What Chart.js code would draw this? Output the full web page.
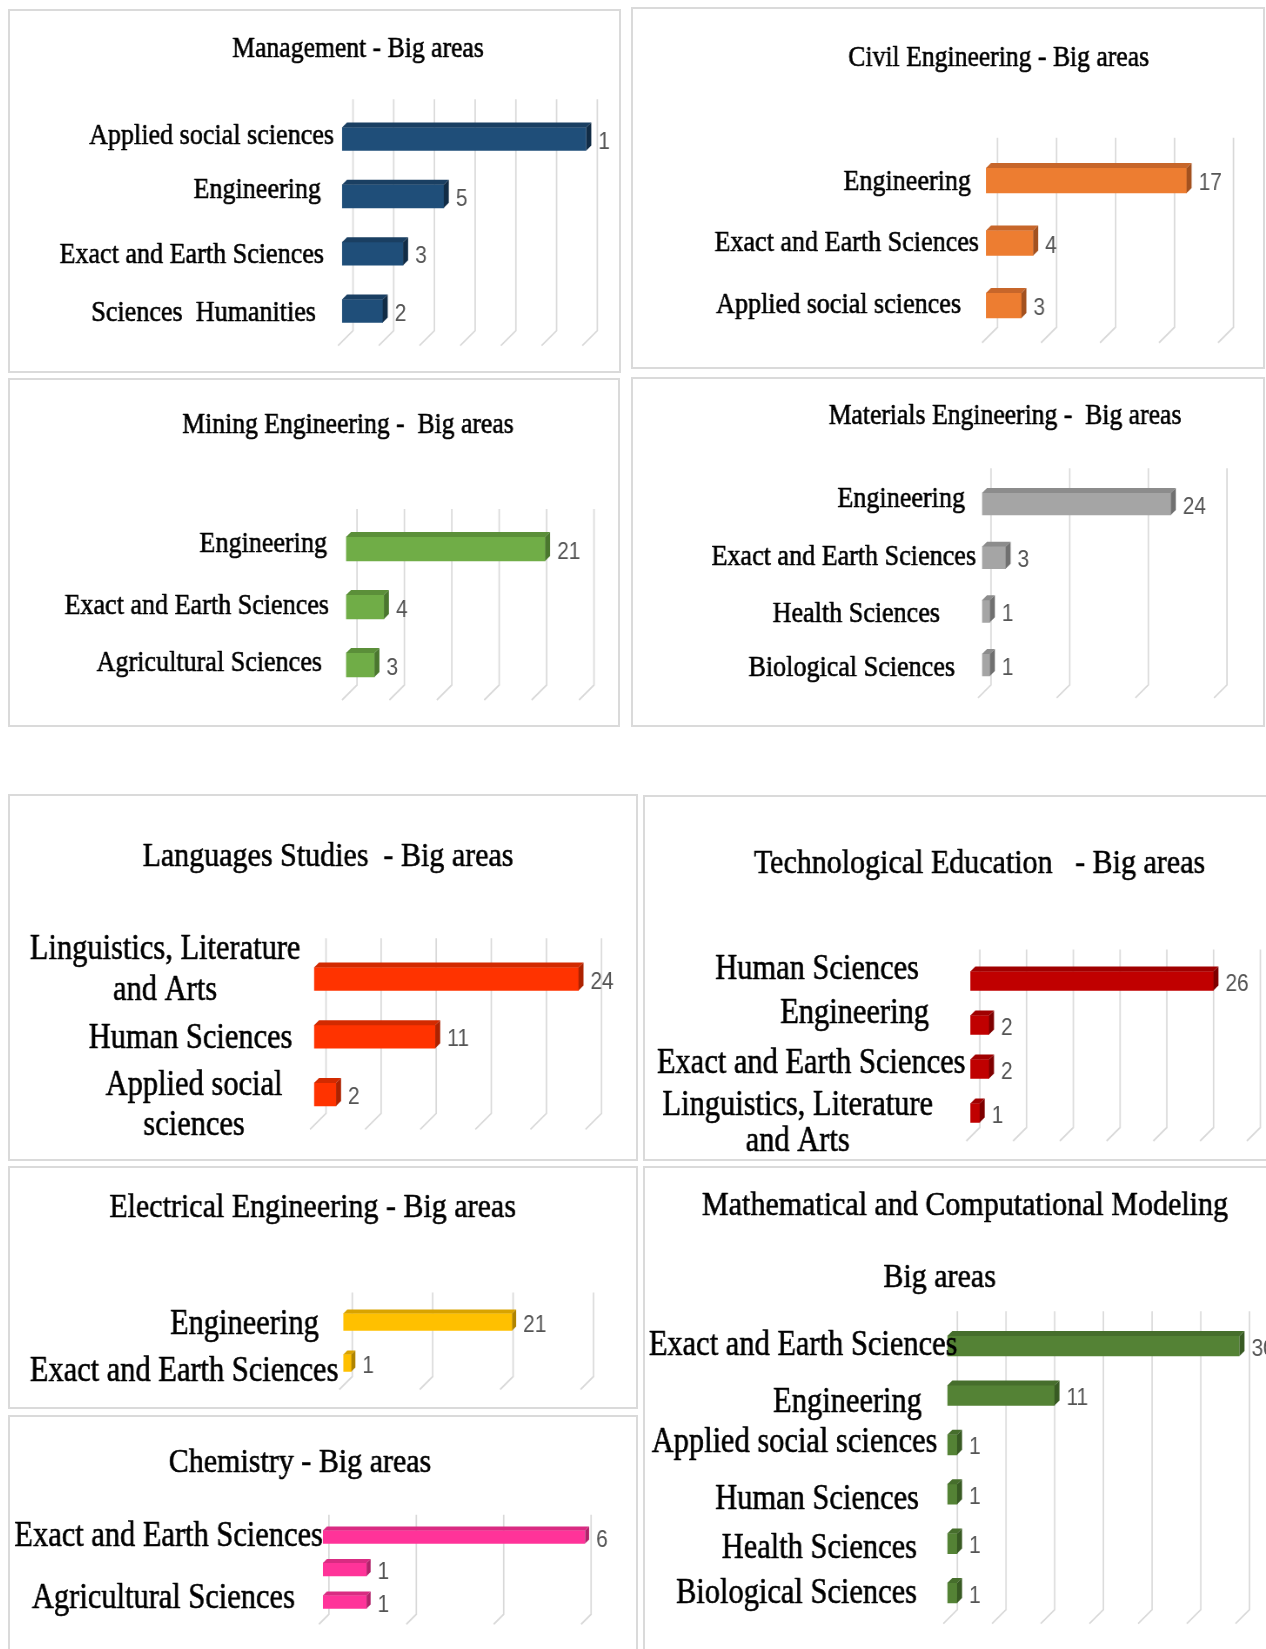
<!DOCTYPE html>
<html>
<head>
<meta charset="utf-8">
<script src="https://cdn.jsdelivr.net/npm/chart.js@4.4.1/dist/chart.umd.min.js"></script>
<style>
html, body { margin: 0; padding: 0; background: #fff; }
body { width: 1266px; height: 1649px; position: relative; overflow: hidden; }
.panel { position: absolute; overflow: hidden; }
.panel canvas { position: absolute; left: 0; top: 0; transform-origin: 0 0; }
.frame { position: absolute; box-sizing: border-box; border: 2px solid #dadada; pointer-events: none; }
</style>
</head>
<body>
<script>
// ---- data ----
var mgmtAreas = ['Applied social sciences', 'Engineering', 'Exact and Earth Sciences', 'Sciences  Humanities'];
var mgmtCounts = [12, 5, 3, 2];
var mgmtShown = ['1', '5', '3', '2'];   // first label is cut in the original
var mgmtAxis = [12, 2];                 // [max, step]

var civilAreas = ['Engineering', 'Exact and Earth Sciences', 'Applied social sciences'];
var civilCounts = [17, 4, 3];
var civilAxis = [20, 5];

var miningAreas = ['Engineering', 'Exact and Earth Sciences', 'Agricultural Sciences'];
var miningCounts = [21, 4, 3];
var miningAxis = [25, 5];

var materialsAreas = ['Engineering', 'Exact and Earth Sciences', 'Health Sciences', 'Biological Sciences'];
var materialsCounts = [24, 3, 1, 1];
var materialsAxis = [30, 10];

var languagesAreas = [['Linguistics, Literature', 'and Arts'], 'Human Sciences', ['Applied social', 'sciences']];
var languagesCounts = [24, 11, 2];
var languagesAxis = [25, 5];

var techAreas = ['Human Sciences', 'Engineering', 'Exact and Earth Sciences', ['Linguistics, Literature', 'and Arts']];
var techCounts = [26, 2, 2, 1];
var techAxis = [30, 5];

var electricalAreas = ['Engineering', 'Exact and Earth Sciences'];
var electricalCounts = [21, 1];
var electricalAxis = [30, 10];

var chemistryAreas = ['Exact and Earth Sciences', '', 'Agricultural Sciences'];
var chemistryCounts = [6, 1, 1];
var chemistryAxis = [6, 2];

var modelingAreas = ['Exact and Earth Sciences', 'Engineering', 'Applied social sciences', 'Human Sciences', 'Health Sciences', 'Biological Sciences'];
var modelingCounts = [30, 11, 1, 1, 1, 1];
var modelingAxis = [30, 5];

// horizontal squeeze of the whole drawing (the source picture is narrowed)
var SX = 0.87;

var panels = [
  { rect: [8, 9, 613, 364], labels: mgmtAreas, values: mgmtCounts, shown: mgmtShown, axis: mgmtAxis,
    color: '#1F4E79', top: '#1a3f62', side: '#112c46',
    zero: 342, xEnd: 586.3, firstY: 139, lastY: 311, barT: 23, depth: 11, k: 5,
    fs: 30, labelRight: 334, shift: [0, -13, -10, -18], dy: [-5, -8, -1, 0], lh: 1.1,
    titleFs: 29.5, titles: [['Management - Big areas', 358, 47.6]] },
  { rect: [631, 7, 634, 362], labels: civilAreas, values: civilCounts, axis: civilAxis,
    color: '#ED7D31', top: '#c7662a', side: '#a3511f',
    zero: 986, xEnd: 1222, firstY: 180.5, lastY: 305.5, barT: 25, depth: 11.5, k: 5,
    fs: 30, labelRight: 979, shift: [-8, 0, -18], dy: [0, -2, -2], lh: 1.1,
    titleFs: 29.5, titles: [['Civil Engineering - Big areas', 998.7, 56]] },
  { rect: [8, 378, 612, 349], labels: miningAreas, values: miningCounts, axis: miningAxis,
    color: '#70AD47', top: '#5b8f39', side: '#4a772e',
    zero: 346, xEnd: 583, firstY: 549, lastY: 665, barT: 24, depth: 11, k: 5,
    fs: 30, labelRight: 329, shift: [-2, 0, -7], dy: [-7, -3, -4], lh: 1.1,
    titleFs: 29.5, titles: [['Mining Engineering -  Big areas', 348, 423.5]] },
  { rect: [631, 377, 634, 350], labels: materialsAreas, values: materialsCounts, axis: materialsAxis,
    color: '#A5A5A5', top: '#8c8c8c', side: '#707070',
    zero: 982, xEnd: 1218, firstY: 504, lastY: 665, barT: 22, depth: 9, k: 5,
    fs: 30, labelRight: 976, shift: [-11, 0, -36, -21], dy: [-7, -3, 1, 1], lh: 1.1,
    titleFs: 29.5, titles: [['Materials Engineering -  Big areas', 1005, 414.3]] },
  { rect: [8, 794, 630, 367], labels: languagesAreas, values: languagesCounts, axis: languagesAxis,
    color: '#FF3300', top: '#d22a00', side: '#ad2200',
    zero: 314, xEnd: 589.5, firstY: 979, lastY: 1094.5, barT: 23, depth: 12, k: 5,
    fs: 35, labelRight: 300.4, shift: [0, -8, -18], dy: [-11, 0, 9], lh: 1.15,
    titleFs: 34.5, titles: [['Languages Studies  - Big areas', 328, 854.5]] },
  { rect: [643, 795, 626, 366], labels: techAreas, values: techCounts, axis: techAxis,
    color: '#C00000', top: '#a00000', side: '#7e0000',
    zero: 970.3, xEnd: 1250.8, firstY: 981, lastY: 1113, barT: 19, depth: 9.5, k: 5,
    fs: 35, labelRight: 965.5, shift: [-46.5, -36.5, 0, -32.5], dy: [-14, -14, -8, 8], lh: 1.03,
    titleFs: 34.5, titles: [['Technological Education   - Big areas', 979.5, 862]] },
  { rect: [8, 1166, 630, 243], labels: electricalAreas, values: electricalCounts, axis: electricalAxis,
    color: '#FFC000', top: '#d9a300', side: '#b08400',
    zero: 343.3, xEnd: 584.5, firstY: 1322, lastY: 1363, barT: 17, depth: 9, k: 4,
    fs: 35, labelRight: 338.4, shift: [-19.6, 0], dy: [0, 6], lh: 1.1,
    titleFs: 34.5, titles: [['Electrical Engineering - Big areas', 312.6, 1205.4]] },
  { rect: [8, 1415, 630, 245], labels: chemistryAreas, values: chemistryCounts, axis: chemistryAxis,
    color: '#FF3399', top: '#d92b82', side: '#b0226a',
    zero: 322.9, xEnd: 585.1, firstY: 1537, lastY: 1602, barT: 13, depth: 6, k: 4,
    fs: 35, labelRight: 322.9, shift: [0, 0, -28], dy: [-3, 0, -6], lh: 1.1,
    titleFs: 34.5, titles: [['Chemistry - Big areas', 300, 1461]] },
  { rect: [643, 1166, 626, 495], labels: modelingAreas, values: modelingCounts, axis: modelingAxis,
    color: '#548235', top: '#466e2c', side: '#385a23',
    zero: 947.3, xEnd: 1239.5, firstY: 1346, lastY: 1593, barT: 20, depth: 10, k: 5,
    fs: 35, labelRight: 957.4, shift: [0, -35.5, -20, -38.4, -40.4, -40.4], dy: [-3, 5, -4, 3, 3, -2], lh: 1.1,
    titleFs: 34.5, titles: [['Mathematical and Computational Modeling', 965, 1203.7], ['Big areas', 939.6, 1276]] }
];

// text drawn a touch heavier, like the blurry source
function heavyText(ctx, s, x, y) {
  ctx.strokeText(s, x, y);
  ctx.fillText(s, x, y);
}

// draws the 3d look, the category labels and the titles
function look(p) {
  var left = p.rect[0], top = p.rect[1];
  return {
    id: 'look',
    beforeDatasetsDraw: function (chart) {
      var ctx = chart.ctx, xs = chart.scales.x, a = chart.chartArea;
      var dxc = p.depth / SX, foot = p.depth + 4;
      ctx.save();
      ctx.strokeStyle = '#d9d9d9';
      ctx.lineWidth = 1.7;
      for (var v = 0; v <= p.axis[0] + 1e-9; v += p.axis[1]) {
        var px = xs.getPixelForValue(v) + dxc;
        var yb = a.bottom - p.depth + 2;
        ctx.beginPath();
        ctx.moveTo(px, a.top - p.depth);
        ctx.lineTo(px, yb);
        ctx.lineTo(px - foot / SX, yb + foot);
        ctx.stroke();
      }
      ctx.restore();
    },
    afterDatasetsDraw: function (chart) {
      var ctx = chart.ctx, meta = chart.getDatasetMeta(0);
      var k = p.k, kx = p.k / SX;
      var vfs = 24;
      ctx.save();
      meta.data.forEach(function (bar, i) {
        var b = bar.getProps(['x', 'y', 'base', 'height'], true);
        var x0 = b.base, x1 = b.x, yt = b.y - b.height / 2, yb = b.y + b.height / 2;
        ctx.fillStyle = p.top;
        ctx.beginPath();
        ctx.moveTo(x0, yt); ctx.lineTo(x0 + kx, yt - k); ctx.lineTo(x1 + kx, yt - k); ctx.lineTo(x1, yt);
        ctx.closePath(); ctx.fill();
        ctx.fillStyle = p.side;
        ctx.beginPath();
        ctx.moveTo(x1, yt); ctx.lineTo(x1 + kx, yt - k); ctx.lineTo(x1 + kx, yb - k); ctx.lineTo(x1, yb);
        ctx.closePath(); ctx.fill();
        var txt = p.shown ? p.shown[i] : String(chart.data.datasets[0].data[i]);
        ctx.fillStyle = '#555';
        ctx.font = vfs + 'px "Liberation Sans"';
        ctx.textAlign = 'left';
        ctx.textBaseline = 'alphabetic';
        ctx.fillText(txt, x1 + kx + 7 / SX, b.y + 1 + 0.358 * vfs);
      });
      ctx.restore();
    },
    afterDraw: function (chart) {
      var ctx = chart.ctx, ys = chart.scales.y;
      ctx.save();
      ctx.fillStyle = '#000';
      ctx.strokeStyle = '#000';
      ctx.lineWidth = 0.6;
      ctx.lineJoin = 'round';
      ctx.textAlign = 'center';
      ctx.textBaseline = 'alphabetic';
      ctx.font = p.fs + 'px "Liberation Serif"';
      var lh = p.fs * p.lh;
      chart.data.labels.forEach(function (lab, i) {
        var lines = Array.isArray(lab) ? lab : [lab];
        var w = 0;
        lines.forEach(function (l) { w = Math.max(w, ctx.measureText(l).width); });
        var right = (p.labelRight + p.shift[i] - left) / SX;
        var cx = right - w / 2;
        var y0 = ys.getPixelForValue(i) + p.dy[i] - (lines.length - 1) * lh / 2 + 0.331 * p.fs;
        lines.forEach(function (l, j) { heavyText(ctx, l, cx, y0 + j * lh); });
      });
      ctx.font = p.titleFs + 'px "Liberation Serif"';
      p.titles.forEach(function (t) {
        heavyText(ctx, t[0], (t[1] - left) / SX, t[2] - top + 0.331 * p.titleFs);
      });
      ctx.restore();
    }
  };
}

panels.forEach(function (p) {
  var w = p.rect[2], h = p.rect[3];
  var div = document.createElement('div');
  div.className = 'panel';
  div.style.left = p.rect[0] + 'px';
  div.style.top = p.rect[1] + 'px';
  div.style.width = w + 'px';
  div.style.height = h + 'px';
  var cv = document.createElement('canvas');
  var cw = Math.round(w / SX);
  cv.width = cw;
  cv.height = h;
  cv.style.width = cw + 'px';
  cv.style.height = h + 'px';
  cv.style.transform = 'scaleX(' + SX + ')';
  div.appendChild(cv);
  document.body.appendChild(div);

  var fr = document.createElement('div');
  fr.className = 'frame';
  fr.style.left = p.rect[0] + 'px';
  fr.style.top = p.rect[1] + 'px';
  fr.style.width = w + 'px';
  fr.style.height = h + 'px';
  document.body.appendChild(fr);

  var n = p.labels.length;
  var s = (p.lastY - p.firstY) / (n - 1);
  var padTop = p.firstY - s / 2 - p.rect[1];
  var padBottom = h - (p.lastY + s / 2 - p.rect[1]);
  var padLeft = (p.zero - p.rect[0]) / SX;
  var padRight = cw - (p.xEnd - p.rect[0]) / SX;

  new Chart(cv, {
    type: 'bar',
    data: {
      labels: p.labels,
      datasets: [{
        data: p.values,
        backgroundColor: p.color,
        borderWidth: 0,
        barThickness: p.barT
      }]
    },
    options: {
      indexAxis: 'y',
      responsive: false,
      animation: false,
      layout: { padding: { left: padLeft, right: padRight, top: padTop, bottom: padBottom } },
      scales: {
        x: { display: false, min: 0, max: p.axis[0] },
        y: { display: false }
      },
      plugins: { legend: { display: false }, tooltip: { enabled: false } }
    },
    plugins: [look(p)]
  });
});
</script>
</body>
</html>
